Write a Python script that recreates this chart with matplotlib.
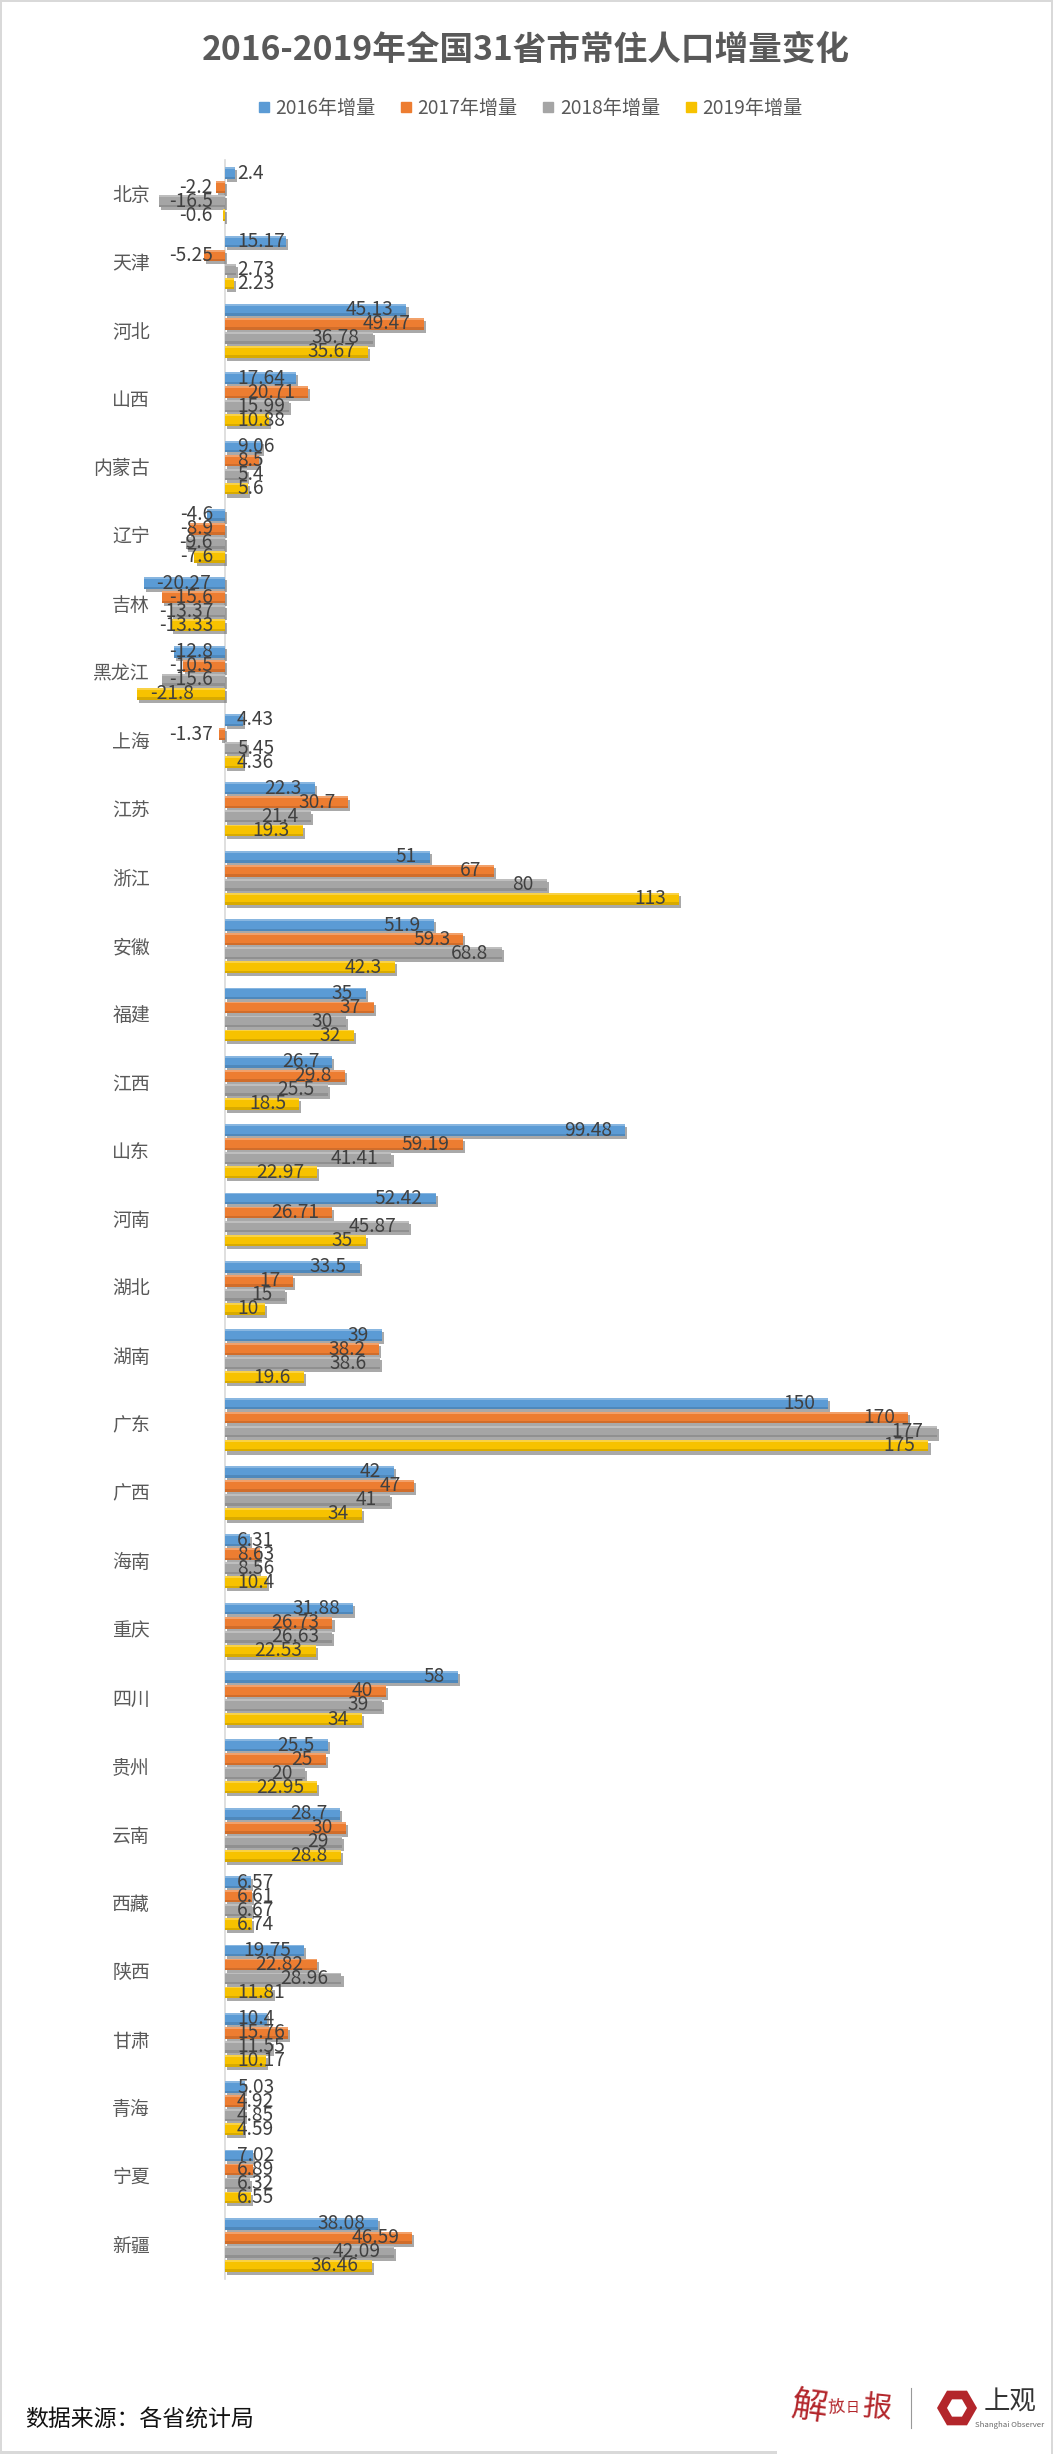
import matplotlib
matplotlib.use("Agg")
import matplotlib.pyplot as plt
import matplotlib.patheffects as pe
import matplotlib.transforms as mtrans
from matplotlib.patches import RegularPolygon, Rectangle
from matplotlib.lines import Line2D

plt.rcParams['font.family'] = ['Noto Sans CJK SC', 'DejaVu Sans']

W, H = 1053, 2454

provinces = ["北京", "天津", "河北", "山西", "内蒙古", "辽宁", "吉林", "黑龙江", "上海", "江苏", "浙江",
             "安徽", "福建", "江西", "山东", "河南", "湖北", "湖南", "广东", "广西", "海南", "重庆",
             "四川", "贵州", "云南", "西藏", "陕西", "甘肃", "青海", "宁夏", "新疆"]
y2016 = [2.4, 15.17, 45.13, 17.64, 9.06, -4.6, -20.27, -12.8, 4.43, 22.3, 51,
         51.9, 35, 26.7, 99.48, 52.42, 33.5, 39, 150, 42, 6.31, 31.88,
         58, 25.5, 28.7, 6.57, 19.75, 10.4, 5.03, 7.02, 38.08]
y2017 = [-2.2, -5.25, 49.47, 20.71, 8.5, -8.9, -15.6, -10.5, -1.37, 30.7, 67,
         59.3, 37, 29.8, 59.19, 26.71, 17, 38.2, 170, 47, 8.63, 26.73,
         40, 25, 30, 6.61, 22.82, 15.76, 4.92, 6.89, 46.59]
y2018 = [-16.5, 2.73, 36.78, 15.99, 5.4, -9.6, -13.37, -15.6, 5.45, 21.4, 80,
         68.8, 30, 25.5, 41.41, 45.87, 15, 38.6, 177, 41, 8.56, 26.63,
         39, 20, 29, 6.67, 28.96, 11.55, 4.85, 6.32, 42.09]
y2019 = [-0.6, 2.23, 35.67, 10.88, 5.6, -7.6, -13.33, -21.8, 4.36, 19.3, 113,
         42.3, 32, 18.5, 22.97, 35, 10, 19.6, 175, 34, 10.4, 22.53,
         34, 22.95, 28.8, 6.74, 11.81, 10.17, 4.59, 6.55, 36.46]
series = [y2016, y2017, y2018, y2019]
names = ["2016年增量", "2017年增量", "2018年增量", "2019年增量"]
colors = ["#5B9BD5", "#ED7D31", "#A5A5A5", "#F7C200"]

PX = 4.02       # pixels per unit on the value axis
ZERO = 225      # pixel column of the zero line

fig = plt.figure(figsize=(W / 100, H / 100), dpi=100)
ax = fig.add_axes([0, 1 - 2279 / H, 1, (2279 - 160) / H])
ax.patch.set_alpha(0)
ax.set_xlim(-ZERO / PX, (W - ZERO) / PX)
ax.set_ylim(len(provinces) - 0.5, -0.5)

shadow = [pe.SimplePatchShadow(offset=(1.5, -2.2), shadow_rgbFace="#555555", alpha=0.5), pe.Normal()]
step = 0.205
bar_h = 0.172
renderer = fig.canvas.get_renderer()
for k, vals in enumerate(series):
    pos = [i + (k - 1.5) * step for i in range(len(provinces))]
    z = 2 + k * 0.1
    bars = ax.barh(pos, vals, height=bar_h, color=colors[k], zorder=z)
    for b in bars:
        b.set_path_effects(shadow)
    # soft bevel: lighter top edge, darker bottom edge
    ax.barh([p - bar_h * 0.42 for p in pos], vals, height=bar_h * 0.16, color="white", alpha=0.28, zorder=z + 0.01)
    ax.barh([p + bar_h * 0.40 for p in pos], vals, height=bar_h * 0.2, color="black", alpha=0.12, zorder=z + 0.01)
    # data labels sit inside the bar end, pushed out when the bar is too short
    for p, v in zip(pos, vals):
        t = ax.text(0, p, str(v), fontsize=13.8, color="#404040", va="center", ha="left", zorder=5)
        w = t.get_window_extent(renderer).width
        if v >= 0:
            left = max(ZERO + 12, ZERO + v * PX - 13 - w)
        else:
            left = min(ZERO - 12 - w, ZERO + v * PX + 13)
        t.set_x((left - ZERO) / PX)

ax.spines[["top", "right", "bottom"]].set_visible(False)
ax.spines["left"].set_position(("data", 0))
ax.spines["left"].set_color("#D9D9D9")
ax.spines["left"].set_linewidth(1.2)
ax.spines["left"].set_zorder(1)
ax.set_xticks([])
ax.set_yticks(range(len(provinces)))
ax.set_yticklabels(provinces, fontsize=13.6, color="#595959")
ax.tick_params(axis="y", length=0, pad=54)
up = mtrans.ScaledTranslation(0, 0.8 / 72, fig.dpi_scale_trans)
for lab in ax.get_yticklabels():
    lab.set_transform(lab.get_transform() + up)

fig.text(526 / W, 1 - 50 / H, "2016-2019年全国31省市常住人口增量变化", fontsize=24.2, fontweight="bold",
         color="#595959", ha="center", va="center")

handles = [Line2D([], [], marker="s", linestyle="none", markersize=7.8, color=c) for c in colors]
fig.legend(handles, names, loc="center", bbox_to_anchor=(530 / W, 1 - 108.5 / H), ncol=4, frameon=False,
           fontsize=13.8, labelcolor="#595959", handletextpad=0.3, columnspacing=1.3, handlelength=0.6)

fig.text(25 / W, 1 - 2419 / H, "数据来源：各省统计局", fontsize=16.5, color="#111111", ha="left", va="center")

# page border, light grey
for x, y, w, h in [(0, 0, W, 2), (0, 0, 2, H), (W - 2, 0, 2, H), (0, H - 3, 777, 3)]:
    fig.add_artist(Rectangle((x / W, 1 - (y + h) / H), w / W, h / H, transform=fig.transFigure,
                             color="#D9D9D9", lw=0))

# logos at the bottom right
red = "#B3262B"
for ch, x, y, s, r in [("解", 810, 2408, 26, -8), ("放", 836, 2408, 12, 5), ("日", 853, 2408, 10, 0), ("报", 877, 2408, 21, -6)]:
    fig.text(x / W, 1 - y / H, ch, fontsize=s, color=red, ha="center", va="center", rotation=r)
fig.add_artist(Line2D([911 / W, 911 / W], [1 - 2388 / H, 1 - 2428 / H], color="#999999", lw=0.8))
ax_logo = fig.add_axes([930 / W, 1 - 2435 / H, 54 / W, 54 / H])
ax_logo.set_xlim(0, 54)
ax_logo.set_ylim(0, 54)
ax_logo.set_aspect("equal")
ax_logo.axis("off")
ax_logo.add_patch(RegularPolygon((27, 27), 6, radius=20, orientation=3.14159 / 2, color=red, lw=0))
ax_logo.add_patch(RegularPolygon((27, 27), 6, radius=10, orientation=3.14159 / 2, color="white", lw=0))
fig.text(1010 / W, 1 - 2402 / H, "上观", fontsize=19, color="#333333", ha="center", va="center")
fig.text(1010 / W, 1 - 2425 / H, "Shanghai Observer", fontsize=5.6, color="#666666", ha="center", va="center")

plt.savefig("out.png", dpi=100)
